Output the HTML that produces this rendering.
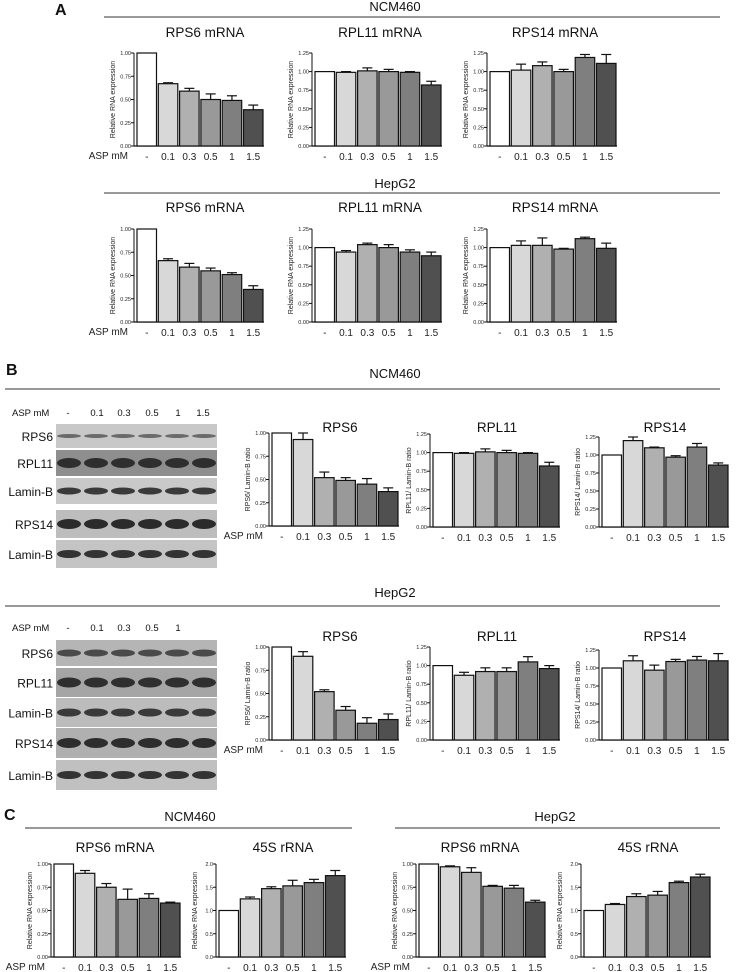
<!DOCTYPE html>
<html><head><meta charset="utf-8"><style>
body{margin:0;background:#fff;}
svg{display:block;font-family:"Liberation Sans",sans-serif;}
</style></head><body>
<svg id="fig" width="739" height="972" viewBox="0 0 739 972" xmlns="http://www.w3.org/2000/svg">
<g id="static" fill="#111">
<text x="55" y="15" font-size="16" font-weight="bold">A</text>
<text x="395" y="11" font-size="13" text-anchor="middle">NCM460</text>
<line x1="104" y1="17" x2="720" y2="17" stroke="#333"/>
<text x="395" y="188" font-size="13" text-anchor="middle">HepG2</text>
<line x1="104" y1="193" x2="720" y2="193" stroke="#333"/>
<text x="6" y="375" font-size="16" font-weight="bold">B</text>
<text x="395" y="378" font-size="13" text-anchor="middle">NCM460</text>
<line x1="5" y1="389" x2="720" y2="389" stroke="#333"/>
<text x="395" y="597" font-size="13" text-anchor="middle">HepG2</text>
<line x1="5" y1="606" x2="720" y2="606" stroke="#333"/>
<text x="4" y="820" font-size="16" font-weight="bold">C</text>
<text x="190" y="821" font-size="13" text-anchor="middle">NCM460</text>
<line x1="25" y1="828" x2="352" y2="828" stroke="#333"/>
<text x="555" y="821" font-size="13" text-anchor="middle">HepG2</text>
<line x1="395" y1="828" x2="720" y2="828" stroke="#333"/>
</g>
<g id="charts"></g>
<g id="blots"></g>
</svg>
<script>
const categories = ["-","0.1","0.3","0.5","1","1.5"];
const aNcmRps6 = [1,0.67,0.59,0.50,0.49,0.39];
const aNcmRps6Err = [0,0.01,0.03,0.06,0.05,0.05];
const aNcmRpl11 = [1,0.99,1.01,1.0,0.99,0.82];
const aNcmRpl11Err = [0,0.01,0.04,0.03,0.01,0.05];
const aNcmRps14 = [1,1.02,1.08,1.00,1.19,1.11];
const aNcmRps14Err = [0,0.08,0.05,0.03,0.04,0.12];
const aHepRps6 = [1,0.66,0.59,0.55,0.51,0.35];
const aHepRps6Err = [0,0.02,0.04,0.03,0.02,0.04];
const aHepRpl11 = [1,0.94,1.04,1.0,0.94,0.89];
const aHepRpl11Err = [0,0.02,0.02,0.04,0.03,0.05];
const aHepRps14 = [1,1.03,1.03,0.98,1.12,0.99];
const aHepRps14Err = [0,0.06,0.10,0.01,0.02,0.07];
const bNcmRps6 = [1,0.93,0.52,0.49,0.45,0.37];
const bNcmRps6Err = [0,0.07,0.06,0.03,0.06,0.04];
const bNcmRpl11 = [1,0.99,1.01,1.0,0.99,0.82];
const bNcmRpl11Err = [0,0.01,0.04,0.03,0.01,0.05];
const bNcmRps14 = [1,1.2,1.1,0.97,1.11,0.86];
const bNcmRps14Err = [0,0.05,0.01,0.02,0.05,0.03];
const bHepRps6 = [1,0.9,0.52,0.32,0.18,0.22];
const bHepRps6Err = [0,0.05,0.02,0.04,0.06,0.06];
const bHepRpl11 = [1,0.87,0.92,0.92,1.05,0.96];
const bHepRpl11Err = [0,0.04,0.05,0.05,0.07,0.04];
const bHepRps14 = [1,1.1,0.97,1.09,1.11,1.1];
const bHepRps14Err = [0,0.07,0.07,0.03,0.05,0.1];
const cNcmRps6 = [1,0.9,0.75,0.62,0.63,0.58];
const cNcmRps6Err = [0,0.03,0.04,0.11,0.05,0.01];
const cNcm45s = [1,1.25,1.47,1.53,1.6,1.75];
const cNcm45sErr = [0,0.04,0.04,0.12,0.07,0.11];
const cHepRps6 = [1,0.97,0.91,0.76,0.74,0.59];
const cHepRps6Err = [0,0.01,0.05,0.01,0.03,0.02];
const cHep45s = [1,1.13,1.3,1.33,1.6,1.72];
const cHep45sErr = [0,0.02,0.06,0.08,0.03,0.06];
const ticks1 = ["0.00","0.25","0.50","0.75","1.00"];
const ticks125 = ["0.00","0.25","0.50","0.75","1.00","1.25"];
const ticks2 = ["0.0","0.5","1.0","1.5","2.0"];

const NS="http://www.w3.org/2000/svg";
const fills=["#ffffff","#d8d8d8","#b0b0b0","#999999","#7f7f7f","#505050"];
function mk(tag,attrs,parent){const e=document.createElementNS(NS,tag);for(const k in attrs)e.setAttribute(k,attrs[k]);parent.appendChild(e);return e;}

function chart(id,title,titleX,titleY,ax,yTop,y0,ticks,vals,errs,ylab,showAsp){
  const g=mk("g",{},document.getElementById("charts"));
  
  
  const tmax=parseFloat(ticks[ticks.length-1]);
  const ys=v=>y0-(v/tmax)*(y0-yTop);
  const pitch=21.3,bw=19.5;
  const xs=i=>ax+3+i*pitch;
  const t=mk("text",{x:titleX,y:titleY,"font-size":13.5,"text-anchor":"middle",fill:"#111"},g);
  t.textContent=title;
  
  
  const yl=mk("text",{x:0,y:0,"font-size":7,"text-anchor":"middle",fill:"#222",transform:`translate(${ax-19},${(yTop+y0)/2}) rotate(-90)`},g);
  yl.textContent=ylab;
  
  
  mk("line",{x1:ax,y1:yTop,x2:ax,y2:y0,stroke:"#111","stroke-width":1},g);
  ticks.forEach(tk=>{const y=ys(parseFloat(tk));
    mk("line",{x1:ax-3,y1:y,x2:ax,y2:y,stroke:"#111"},g);
    const tl=mk("text",{x:ax-3,y:y+2,"font-size":5.5,"text-anchor":"end",fill:"#222"},g);
    tl.textContent=tk;
    
    
  });
  mk("line",{x1:ax,y1:y0,x2:xs(5)+bw+1,y2:y0,stroke:"#111","stroke-width":1.2},g);
  vals.forEach((v,i)=>{
    const x=xs(i),y=ys(v);
    const eb=ys(v+errs[i]);
    if(errs[i]>0){
      mk("line",{x1:x+bw/2,y1:y,x2:x+bw/2,y2:eb,stroke:"#111","stroke-width":1.2},g);
      mk("line",{x1:x+bw/2-5,y1:eb,x2:x+bw/2+5,y2:eb,stroke:"#111","stroke-width":1.2},g);
    }
    const r=mk("rect",{x:x,y:y,width:bw,height:y0-y,fill:fills[i],stroke:"#111","stroke-width":1.2},g);
    
    
    const cl=mk("text",{x:x+bw/2,y:y0+14,"font-size":10,"text-anchor":"middle",fill:"#222"},g);
    cl.textContent=categories[i];
    
    
  });
  if(showAsp){
    const a=mk("text",{x:ax-6,y:y0+13,"font-size":10,"text-anchor":"end",fill:"#222"},g);
    a.textContent="ASP mM";
    
    
  }
}
const rna="Relative RNA expression";
chart("a-ncm-rps6","RPS6 mRNA",205,37,134,53,146,ticks1,aNcmRps6,aNcmRps6Err,rna,true);
chart("a-ncm-rpl11","RPL11 mRNA",380,37,312,53,146,ticks125,aNcmRpl11,aNcmRpl11Err,rna,false);
chart("a-ncm-rps14","RPS14 mRNA",555,37,487,53,146,ticks125,aNcmRps14,aNcmRps14Err,rna,false);
chart("a-hep-rps6","RPS6 mRNA",205,212,134,229,322,ticks1,aHepRps6,aHepRps6Err,rna,true);
chart("a-hep-rpl11","RPL11 mRNA",380,212,312,229,322,ticks125,aHepRpl11,aHepRpl11Err,rna,false);
chart("a-hep-rps14","RPS14 mRNA",555,212,487,229,322,ticks125,aHepRps14,aHepRps14Err,rna,false);
chart("b-ncm-rps6","RPS6",340,432,269,433,526,ticks1,bNcmRps6,bNcmRps6Err,"RPS6/ Lamin-B ratio",true);
chart("b-ncm-rpl11","RPL11",497,432,430,434,527,ticks125,bNcmRpl11,bNcmRpl11Err,"RPL11/ Lamin-B ratio",false);
chart("b-ncm-rps14","RPS14",665,432,599,437,527,ticks125,bNcmRps14,bNcmRps14Err,"RPS14/ Lamin-B ratio",false);
chart("b-hep-rps6","RPS6",340,641,269,647,740,ticks1,bHepRps6,bHepRps6Err,"RPS6/ Lamin-B ratio",true);
chart("b-hep-rpl11","RPL11",497,641,430,647,740,ticks125,bHepRpl11,bHepRpl11Err,"RPL11/ Lamin-B ratio",false);
chart("b-hep-rps14","RPS14",665,641,599,650,740,ticks125,bHepRps14,bHepRps14Err,"RPS14/ Lamin-B ratio",false);
chart("c-ncm-rps6","RPS6 mRNA",115,852,51,864,957,ticks1,cNcmRps6,cNcmRps6Err,rna,true);
chart("c-ncm-45s","45S rRNA",283,852,216,864,957,ticks2,cNcm45s,cNcm45sErr,rna,false);
chart("c-hep-rps6","RPS6 mRNA",480,852,416,864,957,ticks1,cHepRps6,cHepRps6Err,rna,true);
chart("c-hep-45s","45S rRNA",648,852,581,864,957,ticks2,cHep45s,cHep45sErr,rna,false);

function blots(id,aspY,rows,lanes){
  const g=mk("g",{},document.getElementById("blots"));
  
  
  const a=mk("text",{x:12,y:aspY,"font-size":9.5,fill:"#111"},g);
  a.textContent="ASP mM";
  
  
  const lx=[68,97,124,152,178,203];
  lanes.forEach((l,i)=>{const t=mk("text",{x:lx[i],y:aspY,"font-size":9.5,"text-anchor":"middle",fill:"#111"},g);t.textContent=l;
    
    });
  rows.forEach(r=>{
    const [name,y,h,bg,band,bh]=r;
    const lab=mk("text",{x:53,y:y+h/2+5,"font-size":12,"text-anchor":"end",fill:"#111"},g);
    lab.textContent=name;
    
    
    const rc=mk("rect",{x:56,y:y,width:161,height:h,fill:bg},g);
    
    
    for(let i=0;i<6;i++)mk("ellipse",{cx:69+i*27,cy:y+h/2,rx:12,ry:bh,fill:band},g);
  });
}
blots("blot-ncm",416,[["RPS6",424,24,"#c8c8c8","#6a6a6a",2],["RPL11",450,26,"#8e8e8e","#2e2e2e",5],["Lamin-B",478,26,"#c9c9c9","#3a3a3a",3.5],["RPS14",510,28,"#bdbdbd","#2b2b2b",5],["Lamin-B",540,28,"#c4c4c4","#333",4]],["-","0.1","0.3","0.5","1","1.5"]);
blots("blot-hep",631,[["RPS6",640,26,"#b5b5b5","#4a4a4a",3.5],["RPL11",668,29,"#a5a5a5","#2f2f2f",5],["Lamin-B",698,29,"#bcbcbc","#3a3a3a",4],["RPS14",728,30,"#b0b0b0","#2d2d2d",5],["Lamin-B",760,30,"#c0c0c0","#333",4]],["-","0.1","0.3","0.5","1"]);
</script>
</body></html>
